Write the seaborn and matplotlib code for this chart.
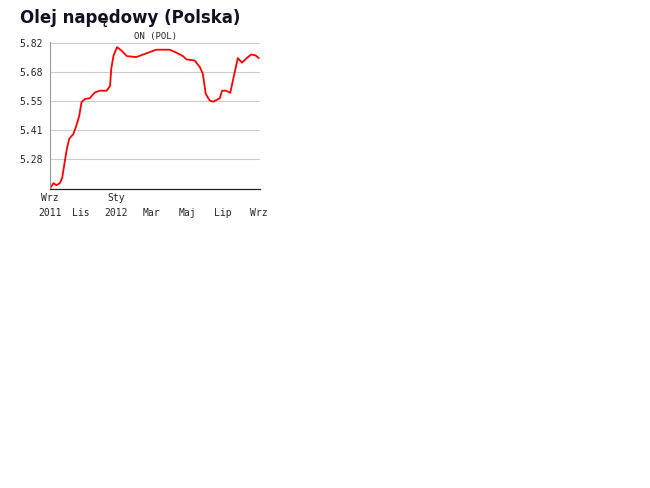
import pandas as pd
import matplotlib.pyplot as plt
import matplotlib.dates as mdates
import seaborn as sns

sns.set_style("white")

# Diesel price in Poland, Sep 2011 - Sep 2012 (PLN/l)
dates = ['2011-09-09', '2011-09-15', '2011-09-20', '2011-09-26', '2011-09-30',
         '2011-10-04', '2011-10-08', '2011-10-12', '2011-10-19', '2011-10-24',
         '2011-10-29', '2011-11-02', '2011-11-08', '2011-11-16', '2011-11-25',
         '2011-12-03', '2011-12-15', '2011-12-21', '2011-12-23', '2011-12-27',
         '2012-01-02', '2012-01-09', '2012-01-19', '2012-02-04', '2012-02-15',
         '2012-02-27', '2012-03-09', '2012-04-01', '2012-04-13', '2012-04-24',
         '2012-04-30', '2012-05-14', '2012-05-23', '2012-05-28', '2012-06-02',
         '2012-06-09', '2012-06-15', '2012-06-26', '2012-06-30', '2012-07-07',
         '2012-07-14', '2012-07-21', '2012-07-27', '2012-08-03', '2012-08-10',
         '2012-08-19', '2012-08-26', '2012-09-01']
prices = [5.145, 5.17, 5.16, 5.17, 5.195,
          5.265, 5.33, 5.376, 5.397, 5.435,
          5.48, 5.544, 5.56, 5.563, 5.59,
          5.598, 5.598, 5.62, 5.70, 5.762,
          5.80, 5.785, 5.758, 5.754, 5.765,
          5.777, 5.788, 5.788, 5.774, 5.758,
          5.743, 5.738, 5.707, 5.676, 5.583,
          5.552, 5.547, 5.563, 5.598, 5.598,
          5.588, 5.676, 5.749, 5.728, 5.746,
          5.766, 5.762, 5.749]

ytick_vals = [5.28, 5.415, 5.55, 5.685, 5.82]
ytick_labels = ['5.28', '5.41', '5.55', '5.68', '5.82']
xtick_dates = ['2011-09-09', '2011-11-01', '2012-01-01', '2012-03-01',
               '2012-05-01', '2012-07-01', '2012-09-01']
xtick_labels = ['Wrz\n2011', '\nLis', 'Sty\n2012', '\nMar', '\nMaj', '\nLip', '\nWrz']

df = pd.DataFrame({'date': pd.to_datetime(dates), 'price': prices})

fig = plt.figure(figsize=(6.5, 4.88), dpi=100)
ax = fig.add_axes([50 / 650, 1 - 188.5 / 488, 210 / 650, 147 / 488])

sns.lineplot(x='date', y='price', data=df, ax=ax, color='#ff0000', linewidth=1.3)

ax.set_xlim(pd.Timestamp('2011-09-09'), pd.Timestamp('2012-09-03'))
ax.set_ylim(5.145, 5.826)
ax.set_yticks(ytick_vals)
ax.set_yticklabels(ytick_labels, family='DejaVu Sans Mono', fontsize=7)
ax.set_xticks([mdates.date2num(pd.Timestamp(d)) for d in xtick_dates])
ax.set_xticklabels(xtick_labels, family='DejaVu Sans Mono', fontsize=7,
                   linespacing=1.55)
ax.tick_params(axis='y', length=0, pad=5)
ax.tick_params(axis='x', length=3, width=0.8, color='#222222', pad=0.5)
ax.grid(axis='y', color='#cccccc', linewidth=0.8)
ax.set_xlabel('')
ax.set_ylabel('')

for side in ['top', 'right']:
    ax.spines[side].set_visible(False)
ax.spines['left'].set_color('#999999')
ax.spines['left'].set_linewidth(0.8)
ax.spines['bottom'].set_color('#222222')
ax.spines['bottom'].set_linewidth(0.9)

ax.text(0.5, 1.0, 'ON (POL)', transform=ax.transAxes, ha='center', va='bottom',
        family='DejaVu Sans Mono', fontsize=6.5)
fig.text(20 / 650, 1 - 18 / 488, 'Olej napędowy (Polska)', ha='left',
         va='center', fontsize=12, fontweight='bold', color='#111122')

fig.savefig('out.png', dpi=100)
